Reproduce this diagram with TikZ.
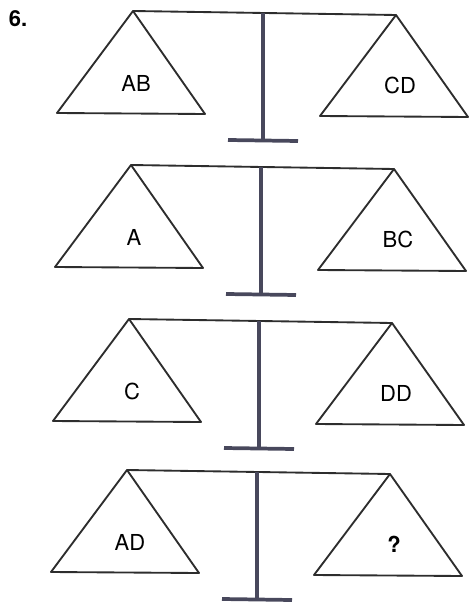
\documentclass[tikz,border=0pt]{standalone}
\usepackage{fontspec}
\setsansfont{TeX Gyre Heros}
\usetikzlibrary{calc}
\definecolor{postgray}{RGB}{72,72,92}
\definecolor{inkgray}{RGB}{45,45,45}

\begin{document}
\begin{tikzpicture}[x=0.75pt,y=-0.75pt,font=\sffamily\fontsize{16.5}{18}\selectfont]
  \useasboundingbox (0,0) rectangle (468,602);
  \tikzset{pan/.style={draw=inkgray,line width=1.4pt,line join=round},
           post/.style={draw=postgray,line width=2.8pt}}
  \node[font=\sffamily\bfseries\fontsize{16.5}{18}\selectfont] (num) at (18,19) {6.};
  % one balance per row: left apex x/y, left and right load
  \foreach \x/\y/\lft/\rgt [count=\i] in {133/11/AB/CD,131/165/A/BC,129/319/C/DD,127/470/AD/\textbf{?}}
  {
    \coordinate (la\i) at (\x,\y);
    \coordinate (ra\i) at ($(la\i)+(263,4)$);
    \coordinate (top\i) at ($(la\i)+(130,2)$);
    \coordinate (bot\i) at ($(la\i)+(130,129)$);
    \draw[pan] (la\i) -- (ra\i);
    \draw[pan] (la\i) -- ++(-76,102) -- ++(148,1) -- cycle;
    \draw[pan] (ra\i) -- ++(-76,101) -- ++(148,1) -- cycle;
    \draw[post] (top\i) -- (bot\i);
    \draw[post] ($(bot\i)+(-35,0)$) -- ($(bot\i)+(35,1)$);
    \node (lw\i) at ($(la\i)+(3,72)$) {\lft};
    \node (rw\i) at ($(ra\i)+(4,70)$) {\rgt};
  }
\end{tikzpicture}
\end{document}
